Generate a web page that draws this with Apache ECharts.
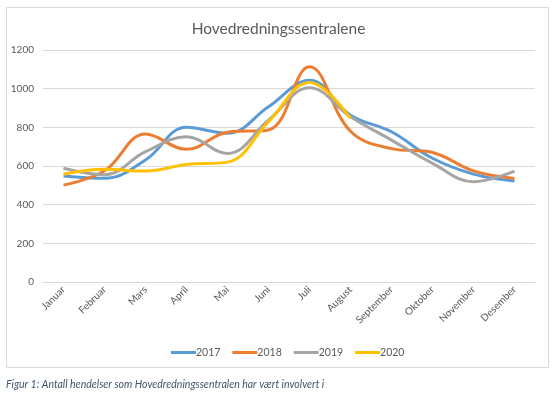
<!DOCTYPE html>
<html>
<head>
<meta charset="utf-8">
<script src="https://cdn.jsdelivr.net/npm/echarts@6/dist/echarts.min.js"></script>
<style>
html,body{margin:0;padding:0;background:#fff;}
#c{width:557px;height:399px;}
</style>
</head>
<body>
<div id="c"></div>
<script>
const months = ['Januar','Februar','Mars','April','Mai','Juni','Juli','August','September','Oktober','November','Desember'];
const s2017 = [548, 536, 631, 800, 769, 906, 1044, 863, 777, 640, 558, 522];
const s2018 = [501, 575, 765, 686, 775, 786, 1113, 780, 690, 670, 575, 536];
const s2019 = [588, 555, 674, 751, 665, 837, 1005, 855, 734, 614, 519, 574];
const s2020 = [557, 583, 574, 608, 620, 829, 1032, 846, null, null, null, null];
const seriesNames = ['2017','2018','2019','2020'];
const colors = ['#5B9BD5','#ED7D31','#A5A5A5','#FFC000'];
const allData = [s2017, s2018, s2019, s2020];
const font = 'Lato, "Open Sans", sans-serif';

const chart = echarts.init(document.getElementById('c'), null, {renderer:'canvas'});
chart.setOption({
  backgroundColor:'#fff',
  animation:false,
  color: colors,
  title:{
    text:'Hovedredningssentralene',
    left:'center', top:16,
    textStyle:{fontFamily:font, fontSize:15.5, fontWeight:'normal', color:'#595959'}
  },
  legend:{
    data: seriesNames,
    top:342, left:166,
    itemWidth:25, itemHeight:3, itemGap:12,
    icon:'rect',
    textStyle:{fontFamily:font, fontSize:10.5, color:'#595959', padding:[0,0,0,-5]}
  },
  grid:{left:43, right:22, top:50, bottom:117},
  xAxis:{
    type:'category', data: months, boundaryGap:true,
    axisLine:{show:true, lineStyle:{color:'#D9D9D9'}},
    axisTick:{show:false},
    axisLabel:{rotate:45, fontFamily:font, fontSize:10, color:'#595959', margin:6, interval:0}
  },
  yAxis:{
    type:'value', min:0, max:1200, interval:200,
    axisLine:{show:false}, axisTick:{show:false},
    splitLine:{lineStyle:{color:'#D9D9D9'}},
    axisLabel:{fontFamily:font, fontSize:10, color:'#595959', margin:9, formatter: v => String(v)}
  },
  series: seriesNames.map((n,i)=>({
    name:n, type:'line', data: allData[i], smooth:0.4, showSymbol:false,
    lineStyle:{width:3, color:colors[i]}, itemStyle:{color:colors[i]}
  })),
  graphic:[
    {type:'rect', shape:{x:6.5, y:7.5, width:542, height:360}, style:{fill:'none', stroke:'#D9D9D9', lineWidth:1}, z:-1},
    {type:'text', left:6, top:379, style:{text:'Figur 1: Antall hendelser som Hovedredningssentralen har vært involvert i', fontFamily:font, fontStyle:'italic', fontSize:10.5, fill:'#44546A'}}
  ]
});
</script>
</body>
</html>
